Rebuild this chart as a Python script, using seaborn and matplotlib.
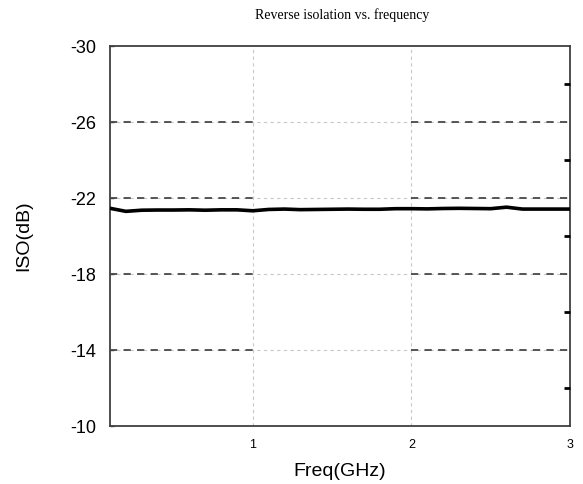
import matplotlib
matplotlib.use("Agg")
import numpy as np
import pandas as pd
import matplotlib.pyplot as plt
import seaborn as sns

freq_ghz = [0.1, 0.2, 0.3, 0.4, 0.5, 0.6, 0.7, 0.8, 0.9, 1.0,
            1.1, 1.2, 1.3, 1.4, 1.5, 1.6, 1.7, 1.8, 1.9, 2.0,
            2.1, 2.2, 2.3, 2.4, 2.5, 2.6, 2.7, 2.8, 2.9, 3.0]
iso_db = [-21.46, -21.30, -21.36, -21.37, -21.37, -21.38, -21.36, -21.38, -21.38, -21.33,
          -21.40, -21.42, -21.39, -21.40, -21.41, -21.42, -21.41, -21.41, -21.44, -21.44,
          -21.43, -21.45, -21.46, -21.45, -21.44, -21.52, -21.42, -21.42, -21.42, -21.42]
y_major = [-30, -26, -22, -18, -14, -10]
y_minor = [-28, -24, -20, -16, -12]
x_major = [1, 2, 3]

df = pd.DataFrame({"Freq": freq_ghz, "ISO": iso_db})

sns.set_theme(style="white")
plt.rcParams["font.family"] = ["Liberation Sans", "DejaVu Sans"]
plt.rcParams["text.color"] = "black"
plt.rcParams["axes.labelcolor"] = "black"
plt.rcParams["xtick.color"] = "black"
plt.rcParams["ytick.color"] = "black"

fig = plt.figure(figsize=(5.83, 4.84), dpi=100)
ax = fig.add_axes([0.1887, 0.1198, 0.789, 0.785])

# light dotted grid
for xv in x_major[:-1]:
    ax.axvline(xv, color="#c8c8c8", lw=0.8, ls=(0, (3, 3)), zorder=0)
for yv in y_major[1:-1]:
    ax.axhline(yv, color="#c8c8c8", lw=0.8, ls=(0, (3, 3)), zorder=0)
    # darker dashed segments outside the middle band
    ax.hlines(yv, freq_ghz[0], x_major[0], color="#484848", lw=1.3, ls=(0, (4, 3.5)), zorder=1)
    ax.hlines(yv, x_major[1], x_major[2], color="#484848", lw=1.3, ls=(0, (4, 3.5)), zorder=1)

sns.lineplot(data=df, x="Freq", y="ISO", ax=ax, color="black", linewidth=2.6, zorder=3)

ax.set_xlim(freq_ghz[0], freq_ghz[-1])
ax.set_ylim(y_major[-1], y_major[0])
ax.set_yticks(y_major)
ax.set_yticklabels([str(v) for v in y_major], fontsize=13)
ax.set_xticks(x_major)
ax.set_xticklabels([str(v) for v in x_major], fontsize=9)

ax.tick_params(axis="y", which="major", direction="in", length=3, width=1,
               color="#404040", left=True, pad=10)
ax.tick_params(axis="x", which="major", length=0, pad=9)

# minor ticks on the right side
ax2 = ax.twinx()
ax2.set_ylim(ax.get_ylim())
ax2.set_yticks(y_minor)
ax2.set_yticklabels([])
ax2.tick_params(axis="y", direction="in", length=4, width=2, color="black", right=True)
for s in ax2.spines.values():
    s.set_visible(False)

for name, s in ax.spines.items():
    s.set_color("#404040")
    s.set_linewidth(1.3)

ax.set_xlabel("Freq(GHz)", fontsize=14, labelpad=9)
ax.set_ylabel("ISO(dB)", fontsize=14, labelpad=27)
fig.text(0.587, 0.968, "Reverse isolation vs. frequency", ha="center", va="center",
         fontsize=10, family=["Liberation Serif", "DejaVu Serif"])

fig.savefig("out.png", dpi=100)
